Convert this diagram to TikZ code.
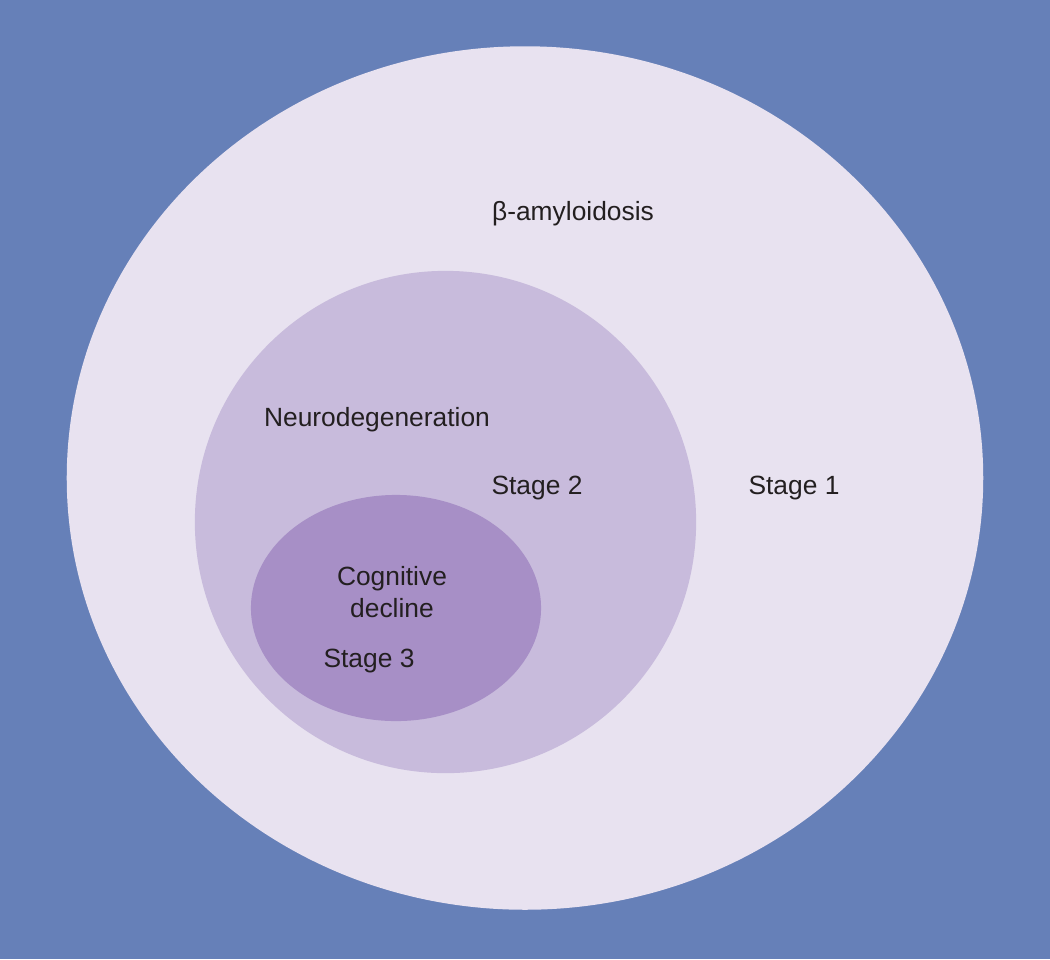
\documentclass[tikz,border=0pt]{standalone}
\usepackage{fontspec}
\setmainfont{Liberation Sans}
\usetikzlibrary{shapes.geometric}
\definecolor{bgblue}{HTML}{6680B8}
\definecolor{stageone}{HTML}{E8E2F0}
\definecolor{stagetwo}{HTML}{C8BBDC}
\definecolor{stagethree}{HTML}{A78FC6}
\definecolor{ink}{HTML}{231F20}
\begin{document}
\begin{tikzpicture}[x=0.01cm,y=-0.01cm]
\tikzstyle{zone}=[ellipse,inner sep=0pt]
\tikzstyle{lbl}=[text=ink,font=\fontsize{7.5}{9.2}\selectfont,inner sep=0pt,align=center]
\fill[bgblue] (0,0) rectangle (1050,959);
\useasboundingbox (0,0) rectangle (1050,959);
\node[zone,fill=stageone,minimum width=9.16cm,minimum height=8.63cm] (amy) at (525,478) {};
\node[zone,fill=stagetwo,minimum width=5.01cm,minimum height=5.02cm] (neuro) at (445.5,522) {};
\node[zone,fill=stagethree,minimum width=2.90cm,minimum height=2.26cm] (cog) at (396,608) {};
\node[lbl] (amyl) at (573,214) {β-amyloidosis};
\node[lbl] (neurol) at (377,420) {Neurodegeneration};
\node[lbl] (s2) at (537,488) {Stage 2};
\node[lbl] (s1) at (794,488) {Stage 1};
\node[lbl] (cogl) at (392,592) {Cognitive\\decline};
\node[lbl] (s3) at (369,661) {Stage 3};
\end{tikzpicture}
\end{document}
